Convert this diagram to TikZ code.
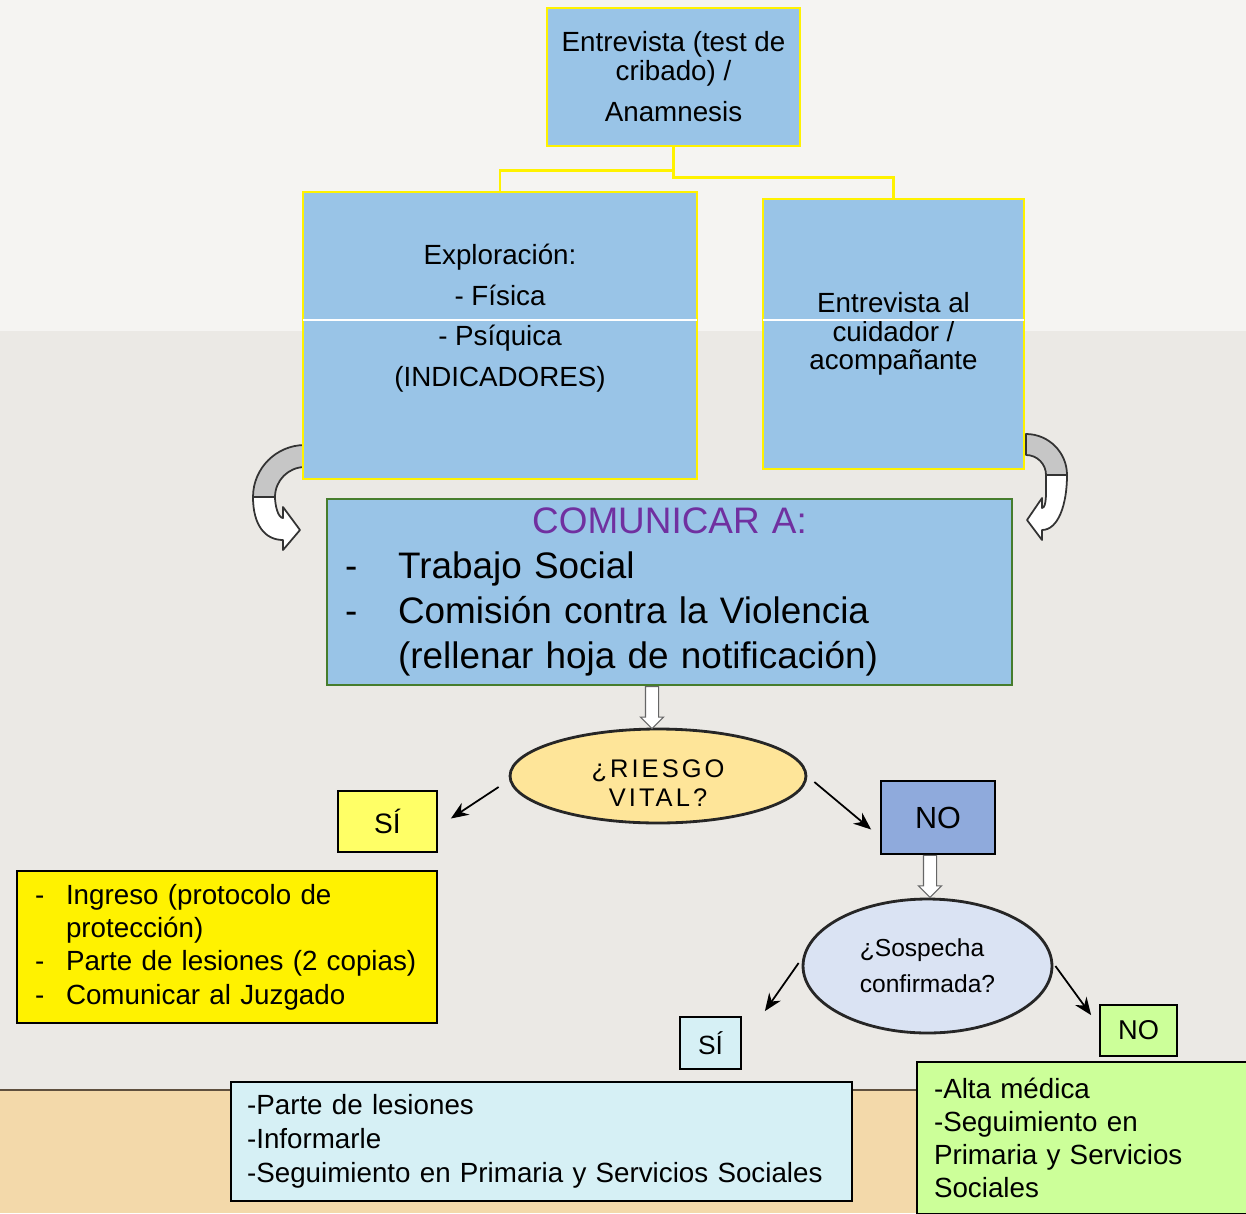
\documentclass[tikz,border=0pt]{standalone}
\usepackage{fontspec}
\setmainfont{Liberation Sans}
\newfontfamily\spacedfont[LetterSpace=12]{Liberation Sans}
\usetikzlibrary{shapes.geometric,shapes.arrows,arrows.meta}

\definecolor{bgtop}{RGB}{245,244,242}
\definecolor{bgmid}{RGB}{235,233,229}
\definecolor{wood}{RGB}{243,217,170}
\definecolor{woodedge}{RGB}{95,80,62}
\definecolor{boxblue}{RGB}{153,196,231}
\definecolor{framegreen}{RGB}{70,125,45}
\definecolor{compurple}{RGB}{112,48,160}
\definecolor{riesgoyellow}{RGB}{254,229,153}
\definecolor{sospechablue}{RGB}{218,227,243}
\definecolor{noblue}{RGB}{143,170,220}
\definecolor{siyellow}{RGB}{255,255,102}
\definecolor{palecyan}{RGB}{214,240,245}
\definecolor{palegreen}{RGB}{204,255,153}

\tikzset{
  bluebox/.style={draw=yellow, line width=1.6pt, fill=boxblue, inner sep=0pt, align=center,
    font=\fontsize{15.8}{16.4}\selectfont},
  yline/.style={draw=yellow, line width=1.4pt},
  answer/.style={draw=black, line width=1pt, inner sep=0pt, font=\fontsize{16}{19}\selectfont},
  listbox/.style={draw=black, line width=1pt, align=left, inner ysep=0pt,
    font=\fontsize{15.8}{18.9}\selectfont},
  question/.style={ellipse, draw=black!85, line width=1.6pt, inner sep=0pt},
  pointer/.style={-{Stealth[length=10pt,width=8pt]}, line width=1pt, black},
  hollow/.style={single arrow, draw=gray!80!black, fill=white, line width=0.6pt, inner sep=0.12cm,
    single arrow head extend=0.1cm, minimum height=0.84cm, shape border rotate=270},
  bendarrow/.style={draw=black!80, line width=1pt, line join=round},
}

\begin{document}
\begin{tikzpicture}[x=0.02cm,y=0.02cm]

\useasboundingbox (0,0) rectangle (1246,-1213);

%% background
\fill[bgtop] (0,0) rectangle (1246,-331);
\fill[bgmid] (0,-331) rectangle (1246,-1090);
\fill[wood] (0,-1090) rectangle (1246,-1213);
\draw[woodedge, line width=1.2pt] (0,-1090) -- (1246,-1090);
\coordinate (band) at (0,-320);

%% curved arrows
\filldraw[bendarrow, fill=gray!45] (305,-445) arc[start angle=90, end angle=180, radius=52]
  -- (275,-497) arc[start angle=180, end angle=90, radius=30] -- cycle;
\filldraw[bendarrow, fill=white] (253,-497) .. controls (253,-525) and (265,-540) .. (283,-540)
  -- (283,-550) -- (300,-530) -- (283,-507) -- (283,-518)
  .. controls (278,-518) and (275,-505) .. (275,-497) -- cycle;
\filldraw[bendarrow, fill=gray!45] (1026,-434) arc[start angle=90, end angle=0, radius=41]
  -- (1046,-475) arc[start angle=0, end angle=90, radius=20] -- cycle;
\filldraw[bendarrow, fill=white] (1067,-475) .. controls (1067,-505) and (1058,-530) .. (1042,-530)
  -- (1042,-540) -- (1027,-520) -- (1042,-498) -- (1042,-508)
  .. controls (1047,-508) and (1046,-490) .. (1046,-475) -- cycle;

%% first level
\node[bluebox, minimum width=5.06cm, minimum height=2.76cm] (entrevista) at (673.5,-77)
  {Entrevista (test de\\cribado) /\\[7pt]Anamnesis};
\node[bluebox, minimum width=7.88cm, minimum height=5.74cm, font=\fontsize{15.8}{23}\selectfont]
  (exploracion) at (500,-335.5) {Exploración:\\- Física\\- Psíquica\\(INDICADORES)\\ \mbox{}};
\node[bluebox, minimum width=5.22cm, minimum height=5.4cm] (cuidador) at (893.5,-334)
  {Entrevista al\\cuidador /\\acompañante};
\draw[white, line width=0.6pt] ([xshift=0.8pt]exploracion.west |- band) -- ([xshift=-0.8pt]exploracion.east |- band);
\draw[white, line width=0.6pt] ([xshift=0.8pt]cuidador.west |- band) -- ([xshift=-0.8pt]cuidador.east |- band);

%% yellow links
\draw[yline] (entrevista.south) -- ++(0,-23) -| (exploracion.north);
\draw[yline] (entrevista.south) -- ++(0,-30) -| (cuidador.north);

%% comunicar
\node[draw=framegreen, line width=1.2pt, fill=boxblue, minimum height=3.72cm, text width=12.98cm,
  inner xsep=0.36cm, align=left, font=\fontsize{21}{25.5}\selectfont] (comunicar) at (669.5,-592)
  {\makebox[12.98cm][c]{\color{compurple}COMUNICAR A:}\\
   \makebox[1.06cm][l]{-}Trabajo Social\\
   \makebox[1.06cm][l]{-}Comisión contra la Violencia\\
   \hspace*{1.06cm}(rellenar hoja de notificación)};

%% questions
\node[question, fill=riesgoyellow, minimum width=5.92cm, minimum height=1.88cm, align=center,
  font=\spacedfont\fontsize{14.5}{16.4}\selectfont] (riesgo) at (658,-776) {\rule{0pt}{18pt}¿RIESGO\\VITAL?};
\node[hollow, anchor=tail] (bajada1) at ([shift={(-17.5,0)}]comunicar.south) {};

\node[answer, fill=siyellow, minimum width=1.98cm, minimum height=1.22cm] (si1) at (387.5,-821.5) {SÍ};
\node[answer, fill=noblue, minimum width=2.28cm, minimum height=1.46cm, font=\fontsize{17.4}{20}\selectfont]
  (no1) at (938,-817.5) {NO};
\draw[pointer] ([shift={(-10,-11)}]riesgo.west) -- ([shift={(13,3)}]si1.east);
\draw[pointer] ([shift={(7,-6)}]riesgo.east) -- ([shift={(-9,-12)}]no1.west);

\node[question, fill=sospechablue, minimum width=4.98cm, minimum height=2.68cm, align=left,
  font=\fontsize{14}{20.4}\selectfont] (sospecha) at (927.5,-966) {¿Sospecha\\confirmada?};
\node[hollow, anchor=tail] (bajada2) at ([shift={(-8,0)}]no1.south) {};

\node[answer, fill=palecyan, minimum width=1.22cm, minimum height=1.04cm, font=\fontsize{15}{18}\selectfont]
  (si2) at (710.5,-1043) {SÍ};
\node[answer, fill=palegreen, minimum width=1.54cm, minimum height=1.02cm, font=\fontsize{15.5}{18}\selectfont]
  (no2) at (1138.5,-1030.5) {NO};
\draw[pointer] ([shift={(-3,3)}]sospecha.west) -- ([shift={(23,5)}]si2.north east);
\draw[pointer] ([shift={(2,0)}]sospecha.east) -- ([shift={(-8,-11)}]no2.north west);

%% outcomes
\node[listbox, fill=yellow, text width=7.68cm, inner xsep=0.36cm, minimum height=3.04cm] (ingreso) at (227,-947)
  {\makebox[0.62cm][l]{-}Ingreso (protocolo de\\
   \hspace*{0.62cm}protección)\\
   \makebox[0.62cm][l]{-}Parte de lesiones (2 copias)\\
   \makebox[0.62cm][l]{-}Comunicar al Juzgado};
\node[listbox, fill=palecyan, text width=11.78cm, inner xsep=0.32cm, minimum height=2.38cm,
  font=\fontsize{15.8}{19.3}\selectfont] (parte) at (541.5,-1141.5)
  {-Parte de lesiones\\-Informarle\\-Seguimiento en Primaria y Servicios Sociales};
\node[listbox, fill=palegreen, text width=6.18cm, inner xsep=0.34cm, minimum height=3.04cm] (alta) at (1088.5,-1138)
  {-Alta médica\\-Seguimiento en\\Primaria y Servicios\\Sociales};

\end{tikzpicture}
\end{document}
